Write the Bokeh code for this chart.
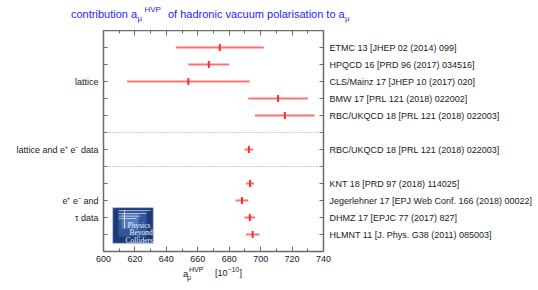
import numpy as np
from bokeh.plotting import figure
from bokeh.layouts import column
from bokeh.models import (Range1d, LinearAxis, SingleIntervalTicker, FixedTicker, Label, Span,
                          ColumnDataSource, CustomJSTickFormatter, Div)
from bokeh.embed import file_html
from bokeh.resources import INLINE

# ---------------- data ----------------
entry_labels = [
    "ETMC 13 [JHEP 02 (2014) 099]",
    "HPQCD 16 [PRD 96 (2017) 034516]",
    "CLS/Mainz 17 [JHEP 10 (2017) 020]",
    "BMW 17 [PRL 121 (2018) 022002]",
    "RBC/UKQCD 18 [PRL 121 (2018) 022003]",
    "RBC/UKQCD 18 [PRL 121 (2018) 022003]",
    "KNT 18 [PRD 97 (2018) 114025]",
    "Jegerlehner 17 [EPJ Web Conf. 166 (2018) 00022]",
    "DHMZ 17 [EPJC 77 (2017) 827]",
    "HLMNT 11 [J. Phys. G38 (2011) 085003]",
]
entry_rows = [1, 2, 3, 4, 5, 7, 9, 10, 11, 12]
values = [674.0, 667.0, 654.0, 711.1, 715.4, 692.5, 693.3, 688.1, 693.1, 694.9]
err_lo = [28.0, 13.0, 39.0, 19.0, 19.0, 2.7, 2.5, 4.1, 3.4, 4.3]
err_hi = [28.0, 13.0, 39.0, 19.0, 19.0, 2.7, 2.5, 4.1, 3.4, 4.3]

group_labels = ["lattice", "lattice and e\u207a e\u207b data", "e\u207a e\u207b and", "\u03c4 data"]
group_rows = [3, 7, 10, 11]
divider_rows = [6, 8]
y_ticks = list(range(1, 13))
x_min, x_max, x_step = 600, 740, 20

title_parts = ["contribution a", "\u03bc", "HVP", "of hadronic vacuum polarisation to a", "\u03bc"]
xlabel_parts = ["a", "\u03bc", "HVP", "[10", "\u221210", "]"]

# ---------------- layout helpers (canvas pixels -> data) ----------------
FRAME_L, FRAME_T, FRAME_W, FRAME_H = 103, 30, 220, 221
Y_MAX = 13
def X(px):
    return x_min + (px - FRAME_L) * (x_max - x_min) / FRAME_W
def Y(py):
    return (py - FRAME_T) * Y_MAX / FRAME_H

FONT = "Liberation Sans"
TXT = "#1a1a1a"
AX = "#6a6a6a"
BLUE = "#1e1eff"

# ---------------- main figure ----------------
p = figure(frame_width=FRAME_W, frame_height=FRAME_H,
           x_range=Range1d(x_min, x_max), y_range=Range1d(Y_MAX, 0),
           x_axis_type=None, y_axis_type=None, toolbar_location=None, output_backend="svg",
           min_border_left=FRAME_L, min_border_right=215, min_border_top=0, min_border_bottom=15)
p.outline_line_color = None
p.background_fill_color = "white"
p.border_fill_color = "white"

def mk_xaxis(show):
    ax = LinearAxis(ticker=SingleIntervalTicker(interval=x_step, num_minor_ticks=2),
                    major_tick_in=5, major_tick_out=0, minor_tick_in=3, minor_tick_out=0,
                    axis_line_color=AX, axis_line_width=1.5,
                    major_tick_line_color=AX, minor_tick_line_color=AX,
                    major_label_text_font=FONT, major_label_text_color=TXT,
                    major_label_text_font_size="9px", major_label_standoff=4 if show else 0)
    if not show:
        ax.formatter = CustomJSTickFormatter(code="return ''")
    return ax

def mk_yaxis(overrides, standoff):
    return LinearAxis(ticker=FixedTicker(ticks=y_ticks, minor_ticks=[]),
                      major_tick_in=4, major_tick_out=0, minor_tick_in=0, minor_tick_out=0,
                      axis_line_color=AX, axis_line_width=1.5, major_tick_line_color=AX,
                      major_label_text_font=FONT, major_label_text_font_size="9px",
                      major_label_text_color=TXT, major_label_standoff=standoff,
                      major_label_overrides=overrides)

left_over = {t: "" for t in y_ticks}
for t, r in zip(group_labels, group_rows):
    left_over[r] = t
right_over = {t: "" for t in y_ticks}
for t, r in zip(entry_labels, entry_rows):
    right_over[r] = t

p.add_layout(mk_xaxis(True), "below")
p.add_layout(mk_xaxis(False), "above")
p.add_layout(mk_yaxis(left_over, 5), "left")
p.add_layout(mk_yaxis(right_over, 6), "right")

for r in divider_rows:
    p.add_layout(Span(location=r, dimension="width", line_color="#9a9a9a",
                      line_dash="1 2", line_width=1))

# ---------------- logo (decoration) ----------------
LOGO = dict(left=X(112.3), right=X(152.7), top=Y(207.3), bottom=Y(242.7))
p.quad(left=[LOGO["left"]], right=[LOGO["right"]], top=[LOGO["top"]], bottom=[LOGO["bottom"]],
       fill_color="#1d3a78", line_color="#8fa6d6", line_width=0.5)
p.quad(left=[X(118)], right=[X(146)], top=[Y(210)], bottom=[Y(236)],
       fill_color="#4f7fc4", fill_alpha=0.45, line_color=None)
p.quad(left=[X(121)], right=[X(138)], top=[Y(213)], bottom=[Y(228)],
       fill_color="#9cc0ee", fill_alpha=0.35, line_color=None)
for yy, xr in [(210, 150), (213, 146), (215.7, 140), (218, 136)]:
    p.segment(x0=[X(118)], x1=[X(xr)], y0=[Y(yy)], y1=[Y(yy)], line_color="#e8f0ff",
              line_width=0.7, line_alpha=0.9)
p.segment(x0=[X(124)], x1=[X(124)], y0=[Y(210)], y1=[Y(228)], line_color="#e8f0ff", line_width=0.8)
for txt, xx, yy in [("Physics", 127, 225), ("Beyond", 129, 232), ("Colliders", 125, 240)]:
    p.add_layout(Label(x=X(xx), y=Y(yy), text=txt, text_font="Liberation Serif",
                       text_font_size="7.5px", text_color="#eef3ff", text_baseline="alphabetic"))

# ---------------- data marks ----------------
lo = [v - e for v, e in zip(values, err_lo)]
hi = [v + e for v, e in zip(values, err_hi)]
src = ColumnDataSource(dict(v=values, r=entry_rows, lo=lo, hi=hi))
p.segment(x0="lo", x1="hi", y0="r", y1="r", source=src, line_color="#ff7272", line_width=2)
p.scatter(x="v", y="r", source=src, marker="dash", angle=np.pi / 2, size=7,
          line_color="#ff2a2a", line_width=2)

# ---------------- text strips as HTML (title above, axis title below) ----------------
ASC = 0.905  # Liberation Sans ascent ratio

def strip_html(parts, places, color, h):
    spans = []
    for t, (px, base, sz) in zip(parts, places):
        top = max(0.0, base - ASC * sz)
        spans.append(f'<span style="position:absolute;left:{px}px;top:{top:.1f}px;'
                     f'font-size:{sz}px;line-height:normal;">{t}</span>')
    return (f'<div style="position:relative;width:538px;height:{h}px;overflow:visible;'
            f"font-family:'{FONT}';color:{color};white-space:nowrap;\">" + "".join(spans) + "</div>")

title_div = Div(text=strip_html(title_parts,
                                [(71, 18, 11), (137.5, 21.5, 8), (144.5, 12.5, 8), (168, 18, 11), (345, 21.5, 8)],
                                BLUE, 30),
                width=538, height=30, margin=0)

XL_TOP = 266
xl_places = [(183, 276.5, 9.5), (187, 280, 7), (189, 272, 7), (215, 276.5, 9), (228, 271.5, 6.5),
             (239.5, 276.5, 9)]
xl_div = Div(text=strip_html(xlabel_parts, [(a, b - XL_TOP, c) for a, b, c in xl_places], TXT, 290 - XL_TOP),
             width=538, height=290 - XL_TOP, margin=0)

layout = column(title_div, p, xl_div, spacing=0)
open("out.html", "w").write(file_html(layout, INLINE))
